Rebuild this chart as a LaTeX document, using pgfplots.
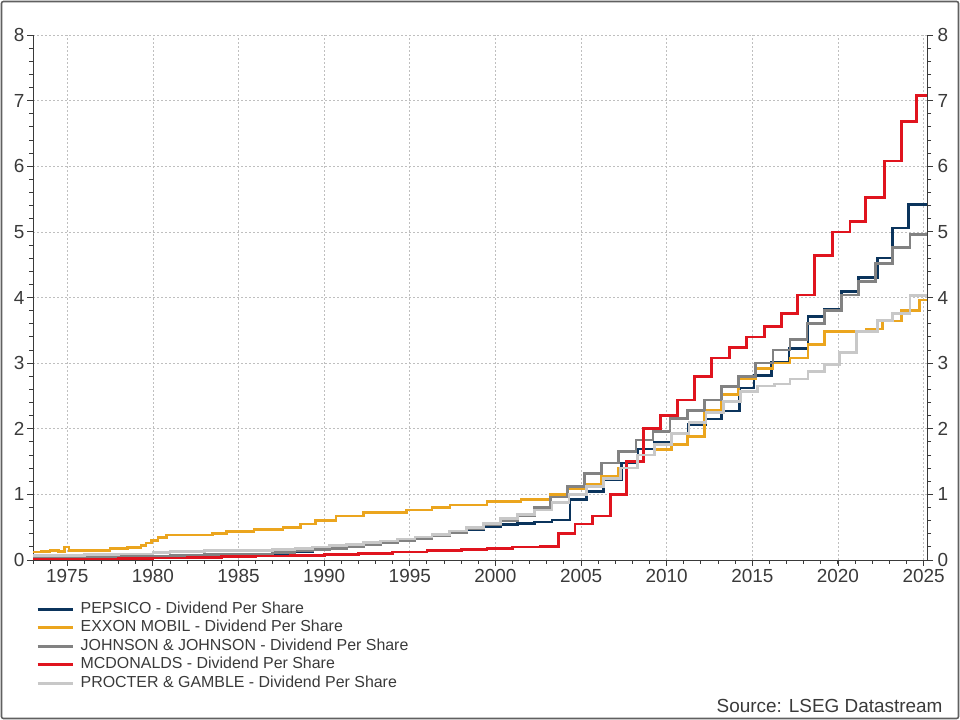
\documentclass[border=0pt]{standalone}
\usepackage{fontspec}
\setmainfont{Liberation Sans}
\usepackage{pgfplots}
\pgfplotsset{compat=1.18}
\definecolor{pep}{HTML}{0B345C}
\definecolor{xom}{HTML}{EBA51E}
\definecolor{jnj}{HTML}{828282}
\definecolor{mcd}{HTML}{E0141E}
\definecolor{pg}{HTML}{C8C8C8}
\definecolor{axc}{HTML}{3A3A3A}
\begin{document}
\begin{tikzpicture}[x=1bp,y=1bp]
\path[use as bounding box] (0,0) rectangle (960,720);
\draw[color=gray!75!black, line width=1.6bp, rounded corners=2bp] (1.5,1.5) rectangle (958.5,718.5);
\begin{axis}[
  at={(33bp,160bp)}, anchor=south west,
  scale only axis, width=894bp, height=525bp,
  xmin=1973, xmax=2025.2, ymin=0, ymax=8,
  axis x line*=bottom, axis y line*=left,
  axis line style={-, axc, line width=0.9bp},
  xtick={1975,1980,...,2025},
  minor xtick={1973,...,2025},
  ytick={0,...,8}, minor y tick num=4,
  tick align=outside, major tick length=6bp, minor tick length=4bp,
  tick style={axc, line width=0.8bp},
  grid=major, major grid style={gray!50, dash pattern=on 2bp off 2bp, line width=0.6bp},
  /pgf/number format/assume math mode=true,
  /pgf/number format/1000 sep={},
  ticklabel style={font=\fontsize{19}{22}\selectfont, text=axc},
  yticklabel style={xshift=1bp},
  no marks, const plot,
  every axis plot/.append style={line width=2.7bp},
  legend style={at={(axis description cs:0.0,-0.072)}, anchor=north west, draw=none, fill=none,
    font=\fontsize{16}{18}\selectfont, text=axc, row sep=0bp,
    nodes={inner sep=1.5bp, text height=12bp, text depth=3.5bp},
    /tikz/every odd column/.append style={column sep=5bp}},
  legend cell align=left,
  legend image code/.code={\draw[#1, line width=3bp] (0bp,0bp) -- (35bp,0bp);},
]
\addplot[pep] coordinates {(1973.0,0.03) (1975,0.035) (1977,0.04) (1979,0.05) (1981,0.07) (1983,0.08) (1985,0.09) (1987,0.10) (1988.3,0.13) (1989.3,0.16) (1990.3,0.19) (1991.3,0.21) (1992.3,0.24) (1993.3,0.27) (1994.3,0.30) (1995.3,0.33) (1996.3,0.37) (1997.3,0.42) (1998.3,0.47) (1999.3,0.51) (2000.3,0.54) (2001.3,0.56) (2002.3,0.58) (2003.3,0.61) (2004.35,0.92) (2005.3,1.04) (2006.3,1.22) (2007.35,1.48) (2008.33,1.69) (2009.3,1.80) (2010.28,1.92) (2011.25,2.06) (2012.3,2.15) (2013.2,2.27) (2014.26,2.62) (2015.1,2.81) (2016.1,3.01) (2017.14,3.22) (2018.25,3.71) (2019.2,3.82) (2020.2,4.09) (2021.2,4.30) (2022.3,4.60) (2023.2,5.06) (2024.1,5.42) (2025.2,5.42)};
\addlegendentry{PEPSICO - Dividend Per Share}
\addplot[xom] coordinates {(1973.0,0.12) (1973.5,0.13) (1974.0,0.14) (1974.5,0.13) (1974.85,0.20) (1975.1,0.15) (1976.5,0.15) (1977.5,0.17) (1978.5,0.19) (1979.3,0.22) (1979.6,0.26) (1979.9,0.30) (1980.3,0.34) (1980.8,0.38) (1983.5,0.40) (1984.3,0.43) (1985.9,0.46) (1987.6,0.50) (1988.6,0.55) (1989.5,0.60) (1990.7,0.67) (1992.3,0.72) (1994.8,0.76) (1996.3,0.80) (1997.35,0.84) (1999.5,0.89) (2001.5,0.92) (2003.2,1.00) (2004.2,1.08) (2005.2,1.16) (2006.2,1.28) (2007.2,1.40) (2008.3,1.60) (2009.3,1.68) (2010.3,1.76) (2011.2,1.88) (2012.2,2.28) (2013.2,2.52) (2014.2,2.76) (2015.2,2.92) (2016.2,3.00) (2017.2,3.08) (2018.25,3.28) (2019.2,3.48) (2021.65,3.52) (2022.6,3.64) (2023.7,3.80) (2024.77,3.96) (2025.2,3.96)};
\addlegendentry{EXXON MOBIL - Dividend Per Share}
\addplot[jnj] coordinates {(1973,0.03) (1975,0.04) (1977,0.05) (1979,0.06) (1981,0.07) (1983,0.08) (1985,0.09) (1987,0.11) (1988.3,0.14) (1989.3,0.16) (1990.3,0.18) (1991.3,0.21) (1992.3,0.24) (1993.3,0.27) (1994.3,0.30) (1995.3,0.33) (1996.3,0.37) (1997.3,0.42) (1998.3,0.48) (1999.3,0.54) (2000.3,0.60) (2001.3,0.68) (2002.3,0.80) (2003.2,0.96) (2004.2,1.12) (2005.2,1.32) (2006.2,1.48) (2007.2,1.65) (2008.2,1.83) (2009.2,1.96) (2010.2,2.16) (2011.2,2.28) (2012.2,2.44) (2013.2,2.64) (2014.2,2.80) (2015.2,3.00) (2016.2,3.20) (2017.2,3.36) (2018.2,3.60) (2019.2,3.80) (2020.2,4.04) (2021.2,4.24) (2022.2,4.52) (2023.2,4.76) (2024.2,4.96) (2025.2,4.96)};
\addlegendentry{JOHNSON \& JOHNSON - Dividend Per Share}
\addplot[mcd] coordinates {(1973,0.005) (1976,0.01) (1978,0.02) (1980,0.03) (1982,0.04) (1984,0.05) (1986,0.06) (1988,0.07) (1990,0.08) (1992,0.10) (1994,0.12) (1996,0.14) (1998,0.16) (1999.5,0.18) (2001,0.20) (2002.6,0.21) (2003.67,0.40) (2004.65,0.55) (2005.65,0.67) (2006.7,1.00) (2007.65,1.50) (2008.65,2.00) (2009.65,2.20) (2010.65,2.44) (2011.64,2.80) (2012.6,3.08) (2013.65,3.24) (2014.65,3.40) (2015.7,3.56) (2016.7,3.76) (2017.63,4.04) (2018.64,4.64) (2019.67,5.00) (2020.7,5.16) (2021.6,5.52) (2022.7,6.08) (2023.7,6.68) (2024.6,7.08) (2025.2,7.08)};
\addlegendentry{MCDONALDS - Dividend Per Share}
\addplot[pg] coordinates {(1973,0.07) (1976,0.08) (1978,0.09) (1980,0.11) (1981,0.13) (1983,0.14) (1985,0.15) (1987,0.16) (1988.3,0.18) (1989.3,0.20) (1990.3,0.22) (1991.3,0.24) (1992.3,0.27) (1993.3,0.29) (1994.3,0.32) (1995.3,0.35) (1996.3,0.39) (1997.3,0.44) (1998.3,0.50) (1999.3,0.56) (2000.3,0.63) (2001.3,0.69) (2002.3,0.76) (2003.3,0.88) (2004.3,1.00) (2005.3,1.12) (2006.3,1.24) (2007.3,1.40) (2008.3,1.60) (2009.3,1.76) (2010.3,1.93) (2011.3,2.10) (2012.3,2.25) (2013.3,2.41) (2014.3,2.57) (2015.3,2.65) (2016.3,2.68) (2017.2,2.76) (2018.25,2.87) (2019.2,2.98) (2020.1,3.16) (2021.07,3.48) (2022.3,3.65) (2023.2,3.76) (2024.2,4.03) (2025.2,4.03)};
\addlegendentry{PROCTER \& GAMBLE - Dividend Per Share}
\end{axis}
\begin{axis}[
  at={(33bp,160bp)}, anchor=south west,
  scale only axis, width=894bp, height=525bp,
  xmin=1973, xmax=2025.2, ymin=0, ymax=8,
  axis x line=none, axis y line*=right,
  axis line style={-, axc, line width=0.9bp},
  ytick={0,...,8}, minor y tick num=4,
  tick align=outside, major tick length=6bp, minor tick length=4bp,
  tick style={axc, line width=0.8bp},
  /pgf/number format/assume math mode=true,
  ticklabel style={font=\fontsize{19}{22}\selectfont, text=axc},
  yticklabel style={xshift=1bp},
]
\addplot[draw=none] coordinates {(1980,1)};
\end{axis}
\node[anchor=base east, font=\fontsize{19}{22}\selectfont, text=axc] at (946,7) {Source: LSEG Datastream};
\end{tikzpicture}
\end{document}
